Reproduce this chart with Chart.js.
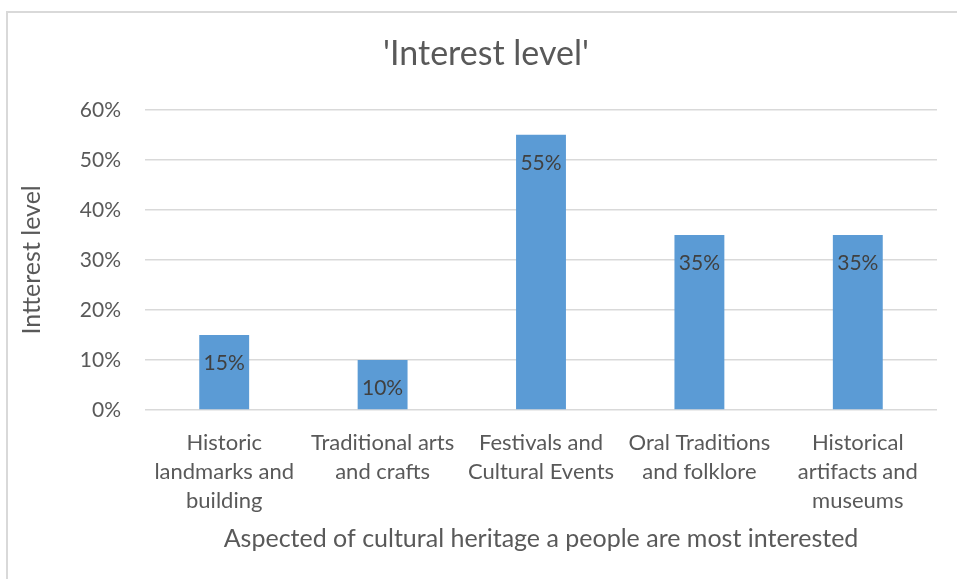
<!DOCTYPE html>
<html>

<head>
    <title>Interest level</title>
    <script src="https://cdn.jsdelivr.net/npm/chart.js"></script>
    <style>
        body {
            margin: 0;
            background: #fff;
            overflow: hidden;
        }

        .frame {
            position: absolute;
            left: 6px;
            top: 11px;
            width: 1000px;
            height: 600px;
            border-left: 2px solid #d9d9d9;
            border-top: 2px solid #d9d9d9;
        }

        #interestChart {
            position: absolute;
            left: 0;
            top: 0;
        }
    </style>
</head>

<body>
    <div class="frame"></div>
    <canvas id="interestChart" width="957" height="579"></canvas>

    <script>
        // categories (multi-line tick labels) and interest level in percent
        const categories = [
            ['Historic', 'landmarks and', 'building'],
            ['Traditional arts', 'and crafts'],
            ['Festivals and', 'Cultural Events'],
            ['Oral Traditions', 'and folklore'],
            ['Historical', 'artifacts and', 'museums']
        ];
        const interest = [15, 10, 55, 35, 35];
        const yTicks = [0, 10, 20, 30, 40, 50, 60];

        const FONT = 'Lato, "Open Sans", sans-serif';
        const GREY = '#595959';

        // value labels just under the top of each bar
        const barLabels = {
            id: 'barLabels',
            afterDatasetsDraw(chart) {
                const c = chart.ctx;
                const meta = chart.getDatasetMeta(0);
                c.save();
                c.font = '21px ' + FONT;
                c.fillStyle = '#404040';
                c.textAlign = 'center';
                c.textBaseline = 'middle';
                meta.data.forEach((bar, i) => {
                    c.fillText(interest[i] + '%', bar.x, bar.y + 28);
                });
                c.restore();
            }
        };

        const ctx = document.getElementById('interestChart').getContext('2d');
        new Chart(ctx, {
            type: 'bar',
            data: {
                labels: categories,
                datasets: [{
                    label: 'Interest level',
                    data: interest,
                    backgroundColor: '#5b9bd5',
                    barPercentage: 0.63,
                    categoryPercentage: 0.5
                }]
            },
            options: {
                responsive: false,
                animation: false,
                layout: {
                    padding: { left: 35, right: 20, top: 0, bottom: 20 }
                },
                plugins: {
                    legend: { display: false },
                    tooltip: { enabled: false },
                    title: {
                        display: true,
                        text: "'Interest level'",
                        color: GREY,
                        font: { family: FONT, size: 34, weight: 'normal', lineHeight: 1.2 },
                        padding: { top: 34, bottom: 35 }
                    }
                },
                scales: {
                    x: {
                        grid: { display: false },
                        border: { display: false },
                        ticks: {
                            color: GREY,
                            font: { family: FONT, size: 22, lineHeight: 1.32 },
                            padding: 10,
                            maxRotation: 0,
                            autoSkip: false
                        },
                        title: {
                            display: true,
                            text: 'Aspected of cultural heritage a people are most interested',
                            color: GREY,
                            font: { family: FONT, size: 25, lineHeight: 1.2 },
                            padding: { top: 0, bottom: 5 }
                        },
                        afterFit(scale) { scale.height = 149; }
                    },
                    y: {
                        min: 0,
                        max: 60,
                        afterBuildTicks(scale) {
                            scale.ticks = yTicks.map(v => ({ value: v }));
                        },
                        grid: { color: '#d9d9d9', lineWidth: 1.5, drawTicks: false },
                        border: { display: false },
                        ticks: {
                            color: GREY,
                            font: { family: FONT, size: 21 },
                            padding: 24,
                            callback: v => v + '%'
                        },
                        title: {
                            display: true,
                            text: 'Intterest level',
                            color: GREY,
                            font: { family: FONT, size: 25, lineHeight: 1.2 },
                            padding: { top: -18, bottom: 0 }
                        },
                        afterFit(scale) { scale.width = 110; }
                    }
                }
            },
            plugins: [barLabels]
        });
    </script>

</body>

</html>
